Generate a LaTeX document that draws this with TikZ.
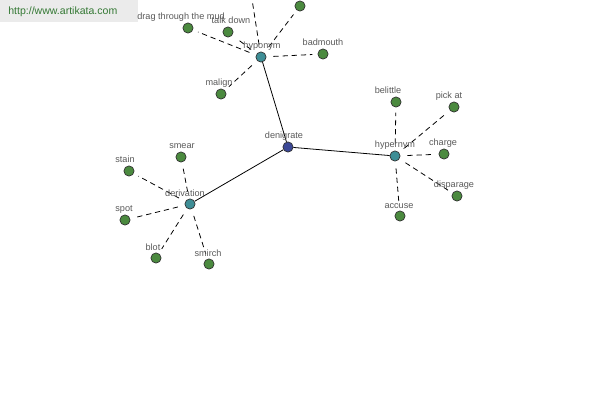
\documentclass[tikz,border=0pt]{standalone}
\usepackage{fontspec}
\setmainfont{Liberation Sans}
\begin{document}
\begin{tikzpicture}[x=0.02cm,y=-0.02cm,
  dot/.style={circle,draw=black!80,line width=0.4pt,minimum size=5.8pt,inner sep=0pt},
  leaf/.style={dot,fill=leafc},
  hub/.style={dot,fill=hubc},
  root/.style={dot,fill=rootc},
  lab/.style={font=\fontsize{5.2}{6}\selectfont,text=black!65,inner sep=0pt},
  rel/.style={draw=black,line width=0.45pt},
  syn/.style={draw=black,line width=0.45pt,dash pattern=on 3pt off 2.2pt,shorten >=3pt,shorten <=4pt}]
\definecolor{leafc}{HTML}{4B8A3F}
\definecolor{hubc}{HTML}{3E8E96}
\definecolor{rootc}{HTML}{3B4896}
\useasboundingbox (0,0) rectangle (600,400);
\clip (0,0) rectangle (600,400);
% watermark
\fill[black!8] (0,0) rectangle (138,22);
\node[anchor=west,font=\fontsize{6}{7}\selectfont,text=black!55!green!60!gray,inner sep=0pt] (wm) at (8,12) {http://www.artikata.com};
% hubs
\node[root] (den) at (288,147) {};
\node[hub] (hypo) at (261,57) {};
\node[hub] (hyper) at (395,156) {};
\node[hub] (deriv) at (190,204) {};
% leaves of hyponym
\node[leaf] (drag) at (188,28) {};
\node[leaf] (talk) at (228,32) {};
\node[leaf] (top1) at (249,-20) {};
\node[leaf] (top2) at (300,6) {};
\node[leaf] (bad) at (323,54) {};
\node[leaf] (mal) at (221,94) {};
% leaves of hypernym
\node[leaf] (bel) at (396,102) {};
\node[leaf] (pick) at (454,107) {};
\node[leaf] (charge) at (444,154) {};
\node[leaf] (disp) at (457,196) {};
\node[leaf] (acc) at (400,216) {};
% leaves of derivation
\node[leaf] (smear) at (181,157) {};
\node[leaf] (stain) at (129,171) {};
\node[leaf] (spot) at (125,220) {};
\node[leaf] (blot) at (156,258) {};
\node[leaf] (smirch) at (209,264) {};
% connectors
\draw[rel] (hypo) -- (den);
\draw[rel] (den) -- (hyper);
\draw[rel] (den) -- (deriv);
\foreach \a in {drag,talk,top1,top2,bad,mal} \draw[syn] (hypo) -- (\a);
\foreach \a in {bel,pick,charge,disp,acc} \draw[syn] (hyper) -- (\a);
\foreach \a in {smear,stain,spot,blot,smirch} \draw[syn] (deriv) -- (\a);
% labels
\node[lab] (Lden) at (284,136) {denigrate};
\node[lab] (Lhypo) at (262,46) {hyponym};
\node[lab] (Lhyper) at (395,145) {hypernym};
\node[lab] (Lderiv) at (185,193) {derivation};
\node[lab,anchor=west] (Ldrag) at (137,17) {drag through the mud};
\node[lab] (Ltalk) at (231,20) {talk down};
\node[lab] (Lbad) at (323,42) {badmouth};
\node[lab] (Lmal) at (219,83) {malign};
\node[lab] (Lbel) at (388,90) {belittle};
\node[lab] (Lpick) at (449,96) {pick at};
\node[lab] (Lcharge) at (443,143) {charge};
\node[lab] (Ldisp) at (454,185) {disparage};
\node[lab] (Lacc) at (399,206) {accuse};
\node[lab] (Lsmear) at (182,146) {smear};
\node[lab] (Lstain) at (125,159) {stain};
\node[lab] (Lspot) at (124,209) {spot};
\node[lab] (Lblot) at (153,247) {blot};
\node[lab] (Lsmirch) at (208,253) {smirch};
\end{tikzpicture}
\end{document}
